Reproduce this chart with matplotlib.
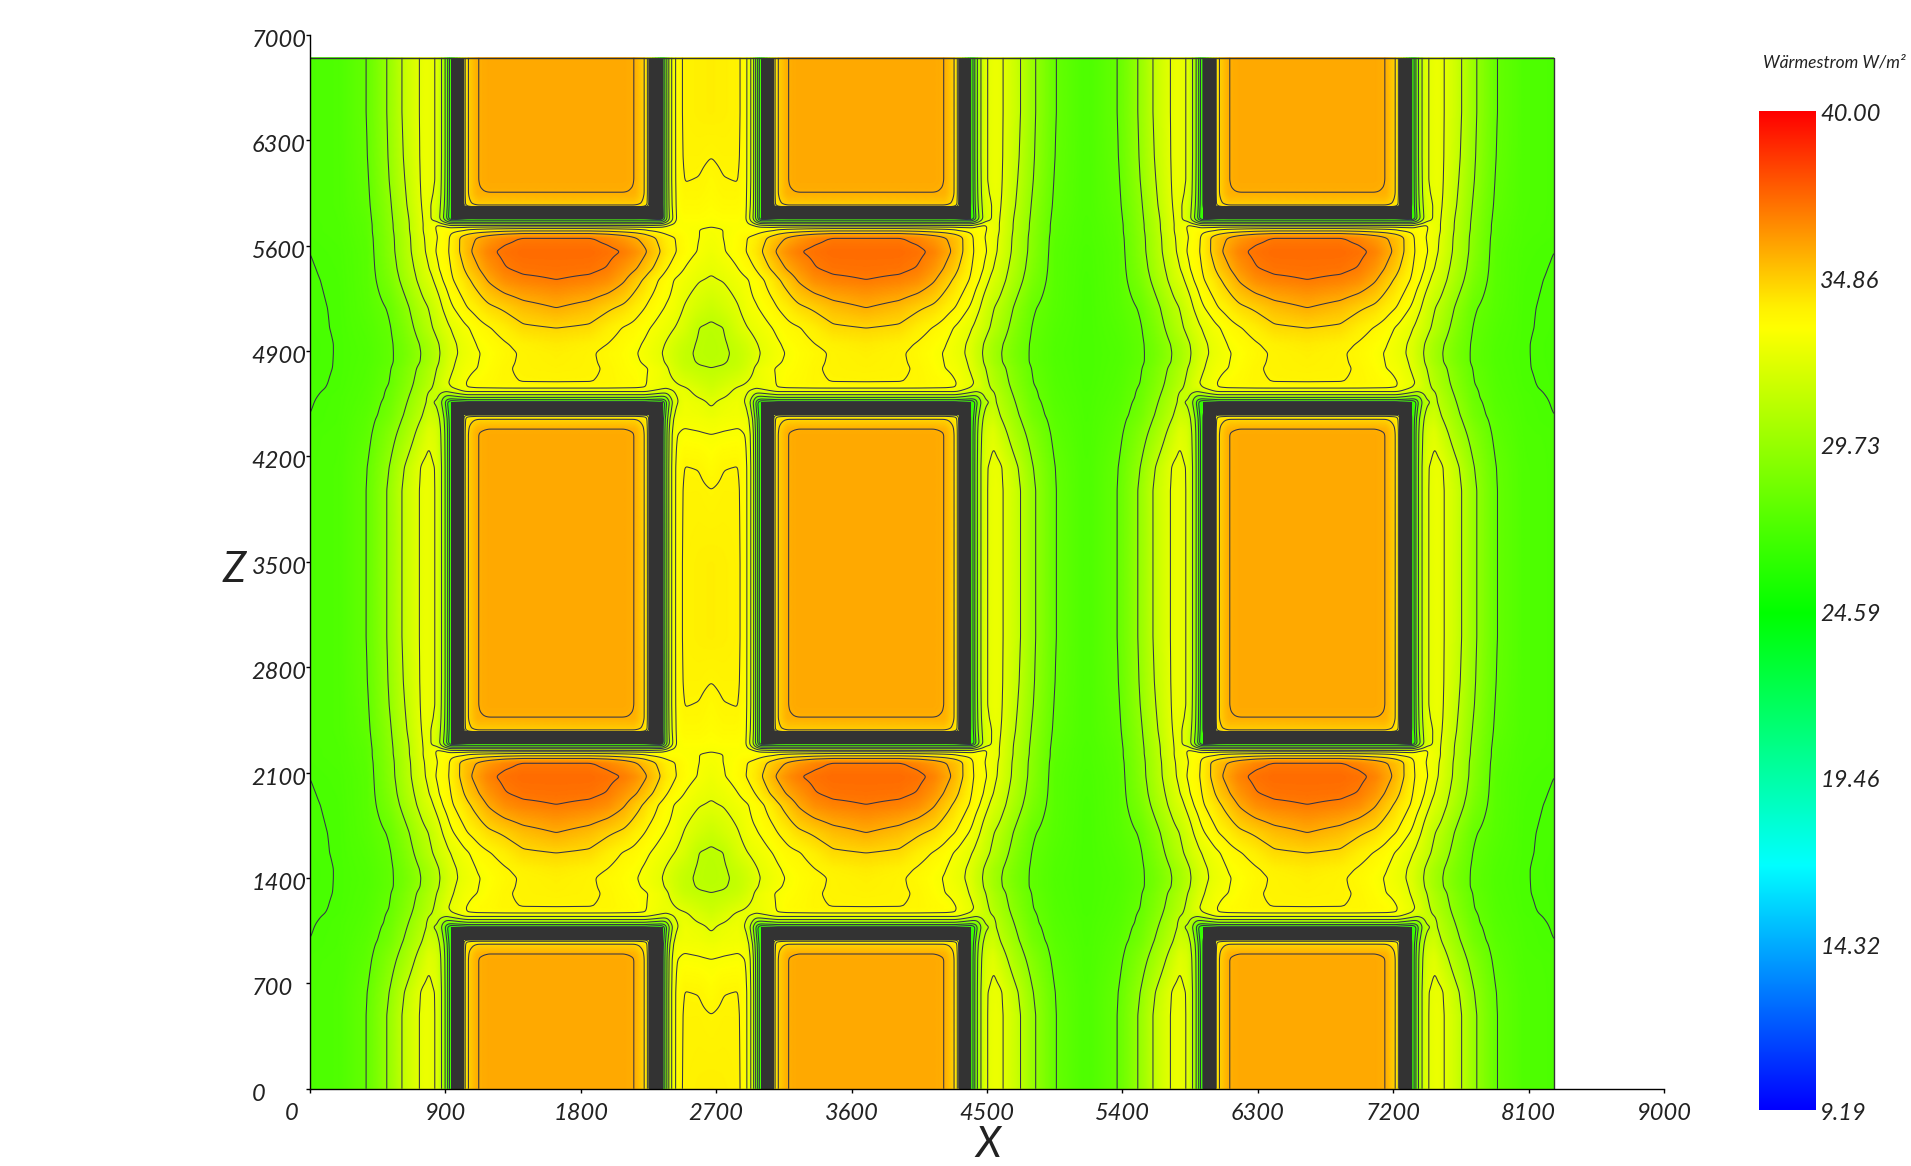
import numpy as np
import matplotlib
matplotlib.use("Agg")
import matplotlib.pyplot as plt
from matplotlib.colors import LinearSegmentedColormap
from matplotlib.patches import Rectangle
from matplotlib.transforms import ScaledTranslation

FONT = "Lato"

# field readings for one storey (z), half a bay (u = distance from window centre)
z_rows = [0, 490, 640, 860, 900, 965, 985, 1075, 1100, 1140, 1165, 1200, 1300, 1340, 1400, 1460, 1567,
          1700, 1885, 1960, 2075, 2168, 2202, 2225, 2250, 2289, 2380, 2461, 2549, 2703, 3000, 3486]

u_gap = [0, 220, 340, 450, 523, 589, 612, 705, 730, 755, 790, 850, 950, 1036]
gap_side = [
    [35.75, 35.75, 35.75, 35.75, 35.6, 34.6, 33.4, 26, 29, 32.1, 33.1, 33.85, 33.95, 34.0],
    [35.75, 35.75, 35.75, 35.75, 35.6, 34.6, 33.4, 26, 29, 32.1, 33.1, 33.8, 33.8, 33.7],
    [35.75, 35.75, 35.75, 35.75, 35.6, 34.6, 33.4, 26, 29, 32.1, 33.1, 33.72, 33.68, 33.4],
    [35.75, 35.75, 35.75, 35.75, 35.6, 34.6, 33.4, 26, 28.9, 31.9, 33.05, 33.2, 33.15, 33.1],
    [35.6, 35.6, 35.6, 35.6, 35.5, 34.5, 33.4, 26, 28.8, 31.7, 33, 33.1, 33.05, 32.95],
    [34.6, 34.6, 34.6, 34.6, 34.6, 34.2, 33.4, 26, 28.5, 31.3, 32.85, 32.95, 32.9, 32.75],
    [33.4, 33.4, 33.4, 33.4, 33.4, 33.4, 33.3, 26, 28.2, 31, 32.7, 32.85, 32.8, 32.6],
    [26, 26, 26, 26, 26, 26, 26, 26, 27.5, 30, 32.2, 32.8, 32.6, 32.25],
    [29.3, 29.3, 29.3, 29.3, 29.3, 29.3, 29.1, 28.6, 29, 30.8, 32.3, 32.7, 32.4, 32.15],
    [32.4, 32.4, 32.4, 32.4, 32.4, 32.4, 32.3, 31.6, 31.5, 32, 32.5, 32.6, 32.2, 31.85],
    [33.1, 33.1, 33.1, 33.1, 33.1, 33.1, 33.0, 32.6, 32.5, 32.6, 32.6, 32.5, 32.1, 31.7],
    [33.7, 33.7, 33.65, 33.5, 33.4, 33.15, 33.05, 32.7, 32.65, 32.6, 32.45, 32.2, 31.8, 31.5],
    [33.85, 33.78, 33.65, 33.4, 33.3, 33.15, 33.1, 32.75, 32.55, 32.3, 31.95, 31.5, 31.2, 31.1],
    [33.9, 33.78, 33.6, 33.38, 33.2, 33.02, 32.92, 32.5, 32.3, 32.1, 31.78, 31.33, 31.02, 30.92],
    [33.95, 33.78, 33.55, 33.35, 33.15, 32.95, 32.85, 32.4, 32.2, 32, 31.7, 31.3, 30.95, 30.85],
    [34.1, 33.9, 33.7, 33.42, 33.25, 33.02, 32.92, 32.5, 32.35, 32.15, 31.85, 31.45, 30.98, 30.84],
    [34.6, 34.45, 34.0, 33.65, 33.5, 33.25, 33.15, 32.8, 32.7, 32.6, 32.38, 32, 31.08, 30.9],
    [35.6, 35.2, 34.75, 34.4, 34, 33.7, 33.55, 33.15, 33.05, 33, 32.85, 32.35, 31.8, 31.45],
    [36.9, 36.7, 36.4, 35.7, 35.0, 34.45, 34.2, 33.5, 33.35, 33.25, 33.05, 32.85, 32.45, 32.3],
    [37.15, 37.1, 36.85, 36.2, 35.7, 35.1, 34.85, 34.0, 33.75, 33.6, 33.4, 33.1, 32.7, 32.5],
    [37.3, 37.3, 37.15, 36.85, 36.4, 35.75, 35.5, 34.45, 34.2, 34.0, 33.75, 33.4, 33.05, 32.75],
    [36.95, 36.95, 36.6, 36.1, 35.65, 35.2, 35.0, 34.2, 34.0, 33.85, 33.7, 33.35, 33.1, 32.95],
    [35.15, 35.15, 35.0, 34.7, 34.5, 34.2, 34.0, 33.6, 33.5, 33.4, 33.35, 33.3, 33.1, 33],
    [33.7, 33.7, 33.65, 33.6, 33.55, 33.5, 33.4, 33.3, 33.3, 33.3, 33.3, 33.25, 33.1, 33.05],
    [32.6, 32.6, 32.6, 32.6, 32.6, 32.6, 32.6, 32.9, 33.1, 33.25, 33.25, 33.25, 33.2, 33.15],
    [26, 26, 26, 26, 26, 26, 26, 26, 29, 31.5, 33.1, 33.3, 33.3, 33.25],
    [34.8, 34.8, 34.8, 34.8, 34.8, 34.3, 33.4, 26, 29, 31.9, 33.1, 33.5, 33.5, 33.35],
    [35.6, 35.6, 35.6, 35.6, 35.55, 34.6, 33.4, 26, 29, 32, 33.1, 33.6, 33.6, 33.45],
    [35.75, 35.75, 35.75, 35.75, 35.6, 34.6, 33.4, 26, 29, 32.1, 33.1, 33.72, 33.68, 33.5],
    [35.75, 35.75, 35.75, 35.75, 35.6, 34.6, 33.4, 26, 29, 32.1, 33.1, 33.8, 33.8, 33.7],
    [35.75, 35.75, 35.75, 35.75, 35.6, 34.6, 33.4, 26, 29, 32.1, 33.1, 33.85, 33.95, 34.0],
    [35.75, 35.75, 35.75, 35.75, 35.6, 34.6, 33.4, 26, 29, 32.1, 33.1, 33.85, 33.95, 34.0],
]

u_margin = [0, 220, 340, 450, 523, 589, 612, 705, 730, 755, 790, 850, 890, 1000, 1110, 1260, 1450, 1640]
margin_side = [
    [35.75, 35.75, 35.75, 35.75, 35.6, 34.6, 33.4, 26, 29, 30.8, 32.3, 32.65, 32.6, 31.5, 29.8, 28.0, 27.2, 27.1],
    [35.75, 35.75, 35.75, 35.75, 35.6, 34.6, 33.4, 26, 29, 30.8, 32.3, 32.65, 32.6, 31.5, 29.8, 28.0, 27.2, 27.1],
    [35.75, 35.75, 35.75, 35.75, 35.6, 34.6, 33.4, 26, 29, 30.8, 32.3, 32.6, 32.55, 31.25, 29.6, 27.95, 27.2, 27.1],
    [35.75, 35.75, 35.75, 35.75, 35.6, 34.6, 33.4, 26, 28.9, 30.6, 32, 32.3, 31.75, 30.3, 29.05, 27.7, 27.15, 27.1],
    [35.6, 35.6, 35.6, 35.6, 35.5, 34.5, 33.4, 26, 28.8, 30.5, 31.9, 32.15, 31.55, 30.15, 28.9, 27.65, 27.15, 27.05],
    [34.6, 34.6, 34.6, 34.6, 34.6, 34.2, 33.4, 26, 28.5, 30.3, 31.6, 31.75, 31.2, 29.9, 28.6, 27.6, 27.12, 27.0],
    [33.4, 33.4, 33.4, 33.4, 33.4, 33.4, 33.3, 26, 28.2, 30.1, 31.5, 31.7, 31.1, 29.8, 28.5, 27.55, 27.12, 27.0],
    [26, 26, 26, 26, 26, 26, 26, 26, 27.3, 29.2, 30.9, 31.3, 30.75, 29.5, 28.3, 27.45, 27.1, 26.98],
    [29.3, 29.3, 29.3, 29.3, 29.3, 29.3, 29.1, 28.4, 28.6, 29.7, 31.25, 31.3, 30.7, 29.4, 28.2, 27.42, 27.1, 26.97],
    [32.4, 32.4, 32.4, 32.4, 32.4, 32.4, 32.3, 31.2, 30.9, 31.2, 31.55, 31.15, 30.5, 29.25, 28.15, 27.4, 27.08, 26.95],
    [33.1, 33.1, 33.1, 33.1, 33.1, 33.1, 33, 32.3, 32, 31.9, 31.5, 30.85, 30.4, 29.15, 28.1, 27.38, 27.05, 26.94],
    [33.7, 33.7, 33.65, 33.5, 33.4, 33.15, 33.05, 32.5, 32.3, 32.0, 31.4, 30.7, 30.25, 29.05, 28.0, 27.35, 27.04, 26.93],
    [33.85, 33.78, 33.65, 33.35, 33.1, 32.95, 32.85, 32.25, 31.95, 31.6, 31.15, 30.45, 30.0, 28.85, 27.9, 27.3, 27.02, 26.92],
    [33.9, 33.78, 33.6, 33.3, 33.08, 32.85, 32.75, 32.2, 31.8, 31.45, 30.95, 30.2, 29.75, 28.68, 27.78, 27.27, 27.02, 26.91],
    [33.95, 33.78, 33.55, 33.25, 33.05, 32.75, 32.65, 32.1, 31.65, 31.35, 30.85, 30.15, 29.7, 28.6, 27.8, 27.25, 27.02, 26.9],
    [34.1, 33.9, 33.65, 33.35, 33.15, 32.8, 32.7, 32.15, 31.75, 31.45, 30.95, 30.2, 29.8, 28.68, 27.8, 27.28, 27.02, 26.9],
    [34.6, 34.45, 34.0, 33.65, 33.4, 33.05, 32.95, 32.4, 32.2, 31.95, 31.5, 30.75, 30.3, 28.95, 27.9, 27.35, 27.03, 26.93],
    [35.6, 35.2, 34.75, 34.4, 34, 33.7, 33.55, 32.95, 32.65, 32.45, 31.9, 31.1, 30.75, 29.3, 28.1, 27.45, 27.03, 26.95],
    [36.9, 36.7, 36.4, 35.7, 35.0, 34.45, 34.2, 33.55, 33.3, 33.1, 32.75, 32.0, 31.6, 30.15, 28.7, 27.5, 27.05, 26.97],
    [37.15, 37.1, 36.85, 36.2, 35.5, 34.9, 34.6, 33.65, 33.45, 33.3, 33.0, 32.35, 31.8, 30.4, 28.9, 27.5, 27.07, 26.98],
    [37.3, 37.3, 37.15, 36.7, 36.0, 35.35, 35.0, 33.8, 33.55, 33.4, 33.2, 32.65, 32.15, 30.6, 29.1, 27.5, 27.1, 27.0],
    [36.95, 36.95, 36.6, 36.1, 35.65, 35.2, 35, 33.75, 33.5, 33.3, 33.1, 32.7, 32.25, 30.65, 29.15, 27.55, 27.15, 27.05],
    [35.15, 35.15, 35.0, 34.7, 34.5, 34.2, 34, 33.6, 33.45, 33.3, 33.15, 32.7, 32.35, 30.7, 29.2, 27.6, 27.15, 27.1],
    [33.7, 33.7, 33.65, 33.6, 33.55, 33.5, 33.4, 33.25, 33.25, 33.25, 33.2, 32.7, 32.38, 30.75, 29.25, 27.6, 27.15, 27.1],
    [32.6, 32.6, 32.6, 32.6, 32.6, 32.6, 32.6, 32.7, 33, 33.15, 33.2, 32.65, 32.38, 30.75, 29.25, 27.6, 27.15, 27.1],
    [26, 26, 26, 26, 26, 26, 26, 26, 28, 30, 31.9, 32.6, 32.42, 30.8, 29.3, 27.65, 27.18, 27.1],
    [34.8, 34.8, 34.8, 34.8, 34.8, 34.3, 33.4, 26, 28.6, 30.4, 32, 32.55, 32.5, 31, 29.4, 27.75, 27.2, 27.1],
    [35.6, 35.6, 35.6, 35.6, 35.55, 34.6, 33.4, 26, 28.8, 30.6, 32.2, 32.62, 32.55, 31.1, 29.5, 27.8, 27.2, 27.1],
    [35.75, 35.75, 35.75, 35.75, 35.6, 34.6, 33.4, 26, 28.9, 30.7, 32.3, 32.65, 32.58, 31.2, 29.6, 27.85, 27.2, 27.1],
    [35.75, 35.75, 35.75, 35.75, 35.6, 34.6, 33.4, 26, 29, 30.8, 32.3, 32.65, 32.6, 31.35, 29.7, 27.93, 27.2, 27.1],
    [35.75, 35.75, 35.75, 35.75, 35.6, 34.6, 33.4, 26, 29, 30.8, 32.3, 32.65, 32.6, 31.5, 29.8, 28.0, 27.2, 27.1],
    [35.75, 35.75, 35.75, 35.75, 35.6, 34.6, 33.4, 26, 29, 30.8, 32.3, 32.65, 32.6, 31.5, 29.8, 28.0, 27.2, 27.1],
]

storey = 3486
x_max = 8266
z_max = 6842

bay_centre = [1637, 3697, 6629]
# which table lies left / right of each window centre
bay_sides = [("margin", "gap"), ("gap", "margin"), ("margin", "margin")]
# x limits between the bays
bay_limits = [0, 2667, 5163, 8266]

frame_outer_x = [(935, 2345), (2997, 4394), (5933, 7324)]
frame_inner_x = [(1023, 2252), (3083, 4312), (6022, 7236)]
frame_outer_z = [(-100, 1073), (2289, 4560), (5775, 6942)]
frame_inner_z = [(-100, 987), (2375, 4473), (5860, 6942)]

contour_levels = [27.0, 28.0, 29.6, 31.1, 32.4, 33.1, 33.7, 34.6, 35.6, 36.9]

v_min = 9.19
v_max = 40.0
bar_labels = ["40.00", "34.86", "29.73", "24.59", "19.46", "14.32", "9.19"]
bar_values = [40.00, 34.86, 29.73, 24.59, 19.46, 14.32, 9.19]
cmap_stops = [(0.0, "#0000ff"), (0.245, "#00ffff"), (0.497, "#00ff00"), (0.783, "#ffff00"),
              (0.805, "#fff000"), (0.862, "#ffaa00"), (1.0, "#ff0000")]

x_ticks = [0, 900, 1800, 2700, 3600, 4500, 5400, 6300, 7200, 8100, 9000]
z_ticks = [0, 700, 1400, 2100, 2800, 3500, 4200, 4900, 5600, 6300, 7000]

W, H = 1911, 1166
DARK = "#333333"
LINE = "#33334a"
TEXT = "#222222"


def build_field():
    xf = np.arange(0, x_max + 6, 6.0)
    zf = np.arange(0, z_max + 6, 6.0)
    zp = np.mod(zf, storey)
    tables = {}
    for name, u, tab in (("gap", u_gap, gap_side), ("margin", u_margin, margin_side)):
        tab = np.array(tab, dtype=float)
        tables[name] = (np.array(u, dtype=float),
                        np.array([np.interp(zp, z_rows, tab[:, j]) for j in range(tab.shape[1])]).T)
    field = np.zeros((len(zf), len(xf)))
    for b, c in enumerate(bay_centre):
        for side, name in enumerate(bay_sides[b]):
            if side == 0:
                mask = (xf >= bay_limits[b]) & (xf < c)
            else:
                mask = (xf >= c) & (xf <= bay_limits[b + 1] + 6)
            u, tab = tables[name]
            dist = np.abs(xf[mask] - c)
            for i in range(len(zf)):
                field[i, mask] = np.interp(dist, u, tab[i])
    # soften the kinks of the coarse reading grid by a few pixels
    kernel = np.array([1, 2, 3, 4, 3, 2, 1], dtype=float)
    kernel /= kernel.sum()
    for axis in (0, 1):
        pad = [(0, 0), (0, 0)]
        pad[axis] = (3, 3)
        padded = np.pad(field, pad, mode="edge")
        field = np.apply_along_axis(lambda r: np.convolve(r, kernel, mode="valid"), axis, padded)
    return xf, zf, field


xf, zf, field = build_field()
cmap = LinearSegmentedColormap.from_list("heat", cmap_stops, N=512)

fig = plt.figure(figsize=(W / 100, H / 100), dpi=100)
ax = fig.add_axes([310 / W, 1 - 1088.7 / H, 1354 / W, 1054 / H])
ax.set_xlim(0, 9000)
ax.set_ylim(0, 7000)

ax.pcolormesh(xf, zf, field, cmap=cmap, vmin=v_min, vmax=v_max, shading="gouraud", zorder=1)
ax.contour(xf, zf, field, levels=contour_levels, colors=LINE, linewidths=0.75, zorder=2)

# dark wall frames round the windows
clip = Rectangle((0, 0), x_max, z_max, transform=ax.transData)
for (xo0, xo1), (xi0, xi1) in zip(frame_outer_x, frame_inner_x):
    for (zo0, zo1), (zi0, zi1) in zip(frame_outer_z, frame_inner_z):
        for x0, x1, z0, z1 in ((xo0, xi0, zo0, zo1), (xi1, xo1, zo0, zo1),
                               (xo0, xo1, zo0, zi0), (xo0, xo1, zi1, zo1)):
            r = Rectangle((x0, z0), x1 - x0, z1 - z0, fc=DARK, ec="none", zorder=3)
            ax.add_patch(r)
            r.set_clip_path(clip)

ax.plot([0, x_max, x_max], [z_max, z_max, 0], color=DARK, lw=1.0, zorder=4)

for side in ("top", "right"):
    ax.spines[side].set_visible(False)
for side in ("left", "bottom"):
    ax.spines[side].set_linewidth(1.0)
    ax.spines[side].set_zorder(5)

ax.set_xticks(x_ticks)
ax.set_yticks(z_ticks)
ax.set_xticklabels([str(t) for t in x_ticks], fontsize=17, style="italic", family=FONT, color=TEXT)
ax.set_yticklabels([str(t) for t in z_ticks], fontsize=17, style="italic", family=FONT, color=TEXT)
ax.tick_params(axis="x", length=3, width=1, pad=7)
ax.tick_params(axis="y", length=3, width=1, pad=39)
down = ScaledTranslation(0, -3.5 / 100, fig.dpi_scale_trans)
for lab in ax.get_yticklabels():
    lab.set_ha("left")
    lab.set_transform(lab.get_transform() + down)
first = ax.get_xticklabels()[0]
first.set_transform(first.get_transform() + ScaledTranslation(-18 / 100, 0, fig.dpi_scale_trans))

fig.text(988 / W, 1 - 1145 / H, "X", fontsize=30, style="italic", family=FONT,
         color=TEXT, ha="center", va="center")
fig.text(234 / W, 1 - 570 / H, "Z", fontsize=30, style="italic", family=FONT,
         color=TEXT, ha="center", va="center")

# colour bar
bar = fig.add_axes([1759 / W, 1 - 1110 / H, 57 / W, 999 / H])
grad = np.linspace(v_max, v_min, 512).reshape(-1, 1)
bar.imshow(grad, aspect="auto", cmap=cmap, vmin=v_min, vmax=v_max,
           extent=(0, 1, v_min, v_max), interpolation="bilinear")
bar.set_xticks([])
bar.set_yticks([])
for s in bar.spines.values():
    s.set_visible(False)
for lab, val in zip(bar_labels, bar_values):
    bar.annotate(lab, (1, val), xycoords=bar.get_yaxis_transform(), xytext=(3, -2.5),
                 textcoords="offset points", fontsize=17, style="italic", family=FONT,
                 color=TEXT, va="center", ha="left", annotation_clip=False)

fig.text(1834 / W, 1 - 62 / H, "Wärmestrom W/m²", fontsize=12.5, style="italic", family=FONT,
         color=TEXT, ha="center", va="center")

fig.savefig("out.png", dpi=100)
